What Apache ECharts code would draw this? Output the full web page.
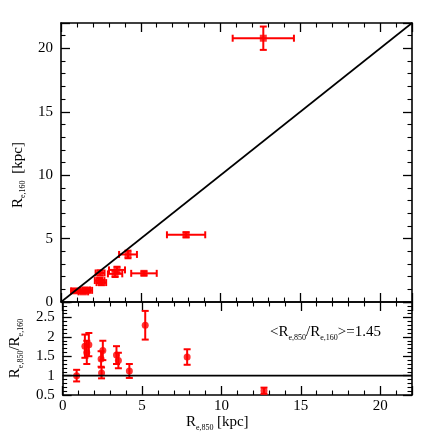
<!DOCTYPE html>
<html>
<head>
<meta charset="utf-8">
<script src="https://cdn.jsdelivr.net/npm/echarts@6/dist/echarts.min.js"></script>
<style>
  html, body { margin: 0; padding: 0; background: #fff; }
  #chart { width: 436px; height: 436px; }
</style>
</head>
<body>
<div id="chart"></div>
<script>
// values
var r850 = [0.88, 1.40, 1.52, 1.65, 2.42, 2.45, 2.53, 3.39, 3.51, 4.20, 5.20, 7.84, 12.68];
var r850Err = [0.25, 0.3, 0.3, 0.3, 0.3, 0.28, 0.3, 0.45, 0.5, 0.56, 0.8, 1.2, 1.92];
var r160 = [0.88, 0.80, 0.95, 0.92, 1.69, 2.29, 1.53, 2.22, 2.53, 3.75, 2.26, 5.30, 20.8];
var r160Err = [0.15, 0.12, 0.12, 0.12, 0.2, 0.2, 0.2, 0.25, 0.25, 0.3, 0.15, 0.2, 0.92];
var ratio = [1.00, 1.76, 1.60, 1.80, 1.43, 1.07, 1.65, 1.53, 1.39, 1.12, 2.30, 1.48, 0.61];
var ratioErr = [0.15, 0.3, 0.3, 0.3, 0.2, 0.14, 0.25, 0.23, 0.2, 0.18, 0.37, 0.2, 0.08];
var meanRatio = "1.45";

var font = "Liberation Serif";
var red = "#ff0000";

var rich = {
  r: { fontSize: 15, fontFamily: font, color: "#000", lineHeight: 17, verticalAlign: "top" },
  s: { fontSize: 8, fontFamily: font, color: "#000", verticalAlign: "bottom", lineHeight: 9 }
};

var chart = echarts.init(document.getElementById("chart"));

var topData = r850.map(function (x, i) {
  return [x, r160[i], r850Err[i], r160Err[i]];
});
var botData = r850.map(function (x, i) {
  return [x, ratio[i], 0, ratioErr[i]];
});

function errorBars(params, api) {
  var x = api.value(0), y = api.value(1), ex = api.value(2), ey = api.value(3);
  var cap = 3.5;
  var kids = [];
  var st = { stroke: red, lineWidth: 2 };
  if (ex > 0) {
    var l = api.coord([x - ex, y]), r = api.coord([x + ex, y]);
    kids.push({ type: "line", shape: { x1: l[0], y1: l[1], x2: r[0], y2: r[1] }, style: st });
    kids.push({ type: "line", shape: { x1: l[0], y1: l[1] - cap, x2: l[0], y2: l[1] + cap }, style: st });
    kids.push({ type: "line", shape: { x1: r[0], y1: r[1] - cap, x2: r[0], y2: r[1] + cap }, style: st });
  }
  if (ey > 0) {
    var b = api.coord([x, y - ey]), t = api.coord([x, y + ey]);
    kids.push({ type: "line", shape: { x1: b[0], y1: b[1], x2: t[0], y2: t[1] }, style: st });
    kids.push({ type: "line", shape: { x1: b[0] - cap, y1: b[1], x2: b[0] + cap, y2: b[1] }, style: st });
    kids.push({ type: "line", shape: { x1: t[0] - cap, y1: t[1], x2: t[0] + cap, y2: t[1] }, style: st });
  }
  return { type: "group", children: kids };
}

function axis(opt) {
  var base = {
    type: "value",
    axisLine: { show: true, onZero: false, lineStyle: { color: "#000", width: 1.6 } },
    axisTick: { show: true, inside: true, length: 9, lineStyle: { color: "#000", width: 1.3 } },
    minorTick: { show: true, splitNumber: 5, length: 4.5, lineStyle: { color: "#000", width: 1.1 } },
    splitLine: { show: false },
    axisLabel: { show: false }
  };
  return Object.assign(base, opt);
}

var labelStyle = { show: true, fontSize: 15, fontFamily: font, color: "#000", showMaxLabel: false };

var option = {
  animation: false,
  grid: [
    { left: 61, top: 23, width: 351, height: 279 },
    { left: 61, top: 302, width: 351, height: 93 }
  ],
  xAxis: [
    axis({ gridIndex: 0, position: "bottom", min: 0, max: 22, interval: 5 }),
    axis({ gridIndex: 0, position: "top", min: 0, max: 22, interval: 5 }),
    axis({
      gridIndex: 1, position: "bottom", min: 0, max: 22, interval: 5,
      axisLabel: Object.assign({ margin: 4 }, labelStyle),
      name: "{r|R}{s|e,850} {r|[kpc]}",
      nameLocation: "middle", nameGap: 18,
      nameTextStyle: { rich: rich, padding: [0, 40, 0, 0] }
    }),
    axis({ gridIndex: 1, position: "top", min: 0, max: 22, interval: 5 })
  ],
  yAxis: [
    axis({
      gridIndex: 0, position: "left", min: 0, max: 22, interval: 5,
      axisLabel: Object.assign({ margin: 8 }, labelStyle),
      name: "{r|R}{s|e,160}  {r|[kpc]}",
      nameLocation: "middle", nameGap: 30,
      nameTextStyle: { rich: rich, padding: [0, 25, 0, 0] }
    }),
    axis({ gridIndex: 0, position: "right", min: 0, max: 22, interval: 5 }),
    axis({
      gridIndex: 1, position: "left", min: 0.5, max: 2.9, interval: 0.5,
      axisLabel: Object.assign({ margin: 8 }, labelStyle),
      name: "{r|R}{s|e,850}{r|/R}{s|e,160}",
      nameLocation: "middle", nameGap: 30,
      nameTextStyle: { rich: rich }
    }),
    axis({ gridIndex: 1, position: "right", min: 0.5, max: 2.9, interval: 0.5 })
  ],
  graphic: [
    {
      type: "text", left: 270, top: 325,
      style: {
        text: "{r|<R}{s|e,850}{r|/R}{s|e,160}{r|>=" + meanRatio + "}",
        rich: rich
      }
    }
  ],
  series: [
    {
      type: "line", xAxisIndex: 0, yAxisIndex: 0, symbol: "none",
      data: [[0, 0], [22, 22]],
      lineStyle: { color: "#000", width: 1.6 }
    },
    {
      type: "line", xAxisIndex: 2, yAxisIndex: 2, symbol: "none",
      data: [[0, 1], [22, 1]],
      lineStyle: { color: "#000", width: 1.6 }
    },
    {
      type: "custom", xAxisIndex: 0, yAxisIndex: 0,
      renderItem: errorBars, data: topData, encode: { x: 0, y: 1 }
    },
    {
      type: "scatter", xAxisIndex: 0, yAxisIndex: 0,
      symbol: "rect", symbolSize: 7, itemStyle: { color: red },
      data: topData.map(function (d) { return [d[0], d[1]]; })
    },
    {
      type: "custom", xAxisIndex: 2, yAxisIndex: 2,
      renderItem: errorBars, data: botData, encode: { x: 0, y: 1 }
    },
    {
      type: "scatter", xAxisIndex: 2, yAxisIndex: 2,
      symbol: "circle", symbolSize: 7, itemStyle: { color: red },
      data: botData.map(function (d) { return [d[0], d[1]]; })
    }
  ]
};

chart.setOption(option);
window.addEventListener("resize", function () {
  chart.resize();
});
</script>
</body>
</html>
